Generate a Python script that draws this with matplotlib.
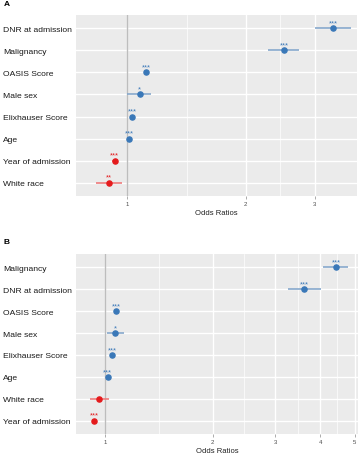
import numpy as np
import matplotlib.pyplot as plt

plt.rcParams['font.family'] = ['Liberation Sans', 'DejaVu Sans']

# ========================== Data ==========================
# Panel A
labels_a = ["DNR at admission", "Malignancy", "OASIS Score", "Male sex",
            "Elixhauser Score", "Age", "Year of admission", "White race"]
or_a  = [3.34, 2.51, 1.116, 1.075, 1.03, 1.01, 0.928, 0.896]
lo_a  = [3.00, 2.28, 1.10, 1.00, 1.02, 1.005, 0.915, 0.832]
hi_a  = [3.71, 2.74, 1.13, 1.146, 1.04, 1.015, 0.940, 0.969]
sig_a = ["***", "***", "***", "*", "***", "***", "***", "**"]

# Panel B
labels_b = ["Malignancy", "DNR at admission", "OASIS Score", "Male sex",
            "Elixhauser Score", "Age", "White race", "Year of admission"]
or_b  = [4.44, 3.61, 1.076, 1.069, 1.048, 1.017, 0.964, 0.932]
lo_b  = [4.07, 3.25, 1.06, 1.011, 1.035, 1.010, 0.908, 0.920]
hi_b  = [4.80, 4.02, 1.09, 1.128, 1.060, 1.025, 1.024, 0.945]
sig_b = ["***", "***", "***", "*", "***", "***", "", "***"]

ticks_a = [1, 2, 3]
ticks_b = [1, 2, 3, 4, 5]
# ==========================================================

BLUE, BLUE_CI = "#3A78B8", "#86A8CC"
RED, RED_CI = "#E41A1C", "#EE7A7B"

W, H = 358, 456
fig = plt.figure(figsize=(W / 100, H / 100), dpi=100)


def forest(ax, labels, ors, lo, hi, sig, ticks, xlim):
    n = len(labels)
    ypos = np.arange(n)[::-1]
    ax.set_facecolor("#EBEBEB")
    ax.set_xscale("log")
    ax.set_xlim(*xlim)
    ax.set_ylim(-0.6, n - 1 + 0.6)

    # ggplot-style minor breaks: geometric midpoints between majors
    minors = [np.sqrt(a * b) for a, b in zip(ticks[:-1], ticks[1:])]
    ax.set_xticks(ticks)
    ax.set_xticklabels([str(t) for t in ticks])
    ax.set_xticks(minors, minor=True)
    ax.set_xticklabels([], minor=True)
    ax.grid(True, which="major", color="white", lw=1.0)
    ax.grid(True, which="minor", axis="x", color="white", lw=0.5)
    ax.set_axisbelow(True)
    ax.axvline(1, color="#BDBDBD", lw=1.0, zorder=1)

    for y, o, l, h, s in zip(ypos, ors, lo, hi, sig):
        col, ccol = (BLUE, BLUE_CI) if o >= 1 else (RED, RED_CI)
        ax.plot([l, h], [y, y], color=ccol, lw=1.2, solid_capstyle="butt", zorder=2)
        ax.plot(o, y, "o", color=col, ms=3.7, zorder=3)
        if s:
            ax.annotate(s, (o, y), xytext=(0, 2.9), textcoords="offset points",
                        ha="center", va="baseline", fontsize=5.5, color=col, zorder=4)

    ax.set_yticks(ypos)
    ax.set_yticklabels(labels, fontsize=6.1, color="#1A1A1A", ha="left")
    ax.tick_params(axis="y", length=0, pad=52.5)
    ax.tick_params(axis="x", which="major", length=2, width=0.5, color="#8C8C8C",
                   labelsize=4.3, labelcolor="#4D4D4D", pad=1.5)
    ax.tick_params(axis="x", which="minor", length=0)
    ax.set_xlabel("Odds Ratios", fontsize=5.5, color="#222222", labelpad=2)
    for sp in ax.spines.values():
        sp.set_visible(False)


ax_a = fig.add_axes([76 / W, 1 - 197 / H, 281 / W, 181 / H])
forest(ax_a, labels_a, or_a, lo_a, hi_a, sig_a, ticks_a, (0.740, 3.84))

ax_b = fig.add_axes([76 / W, 1 - 435 / H, 282 / W, 180 / H])
forest(ax_b, labels_b, or_b, lo_b, hi_b, sig_b, ticks_b, (0.829, 5.11))

fig.text(4 / W, 1 - 5 / H, "A", fontsize=6, fontweight="bold", va="center", ha="left")
fig.text(4 / W, 1 - 243 / H, "B", fontsize=6, fontweight="bold", va="center", ha="left")

fig.savefig("out.png", dpi=100)
